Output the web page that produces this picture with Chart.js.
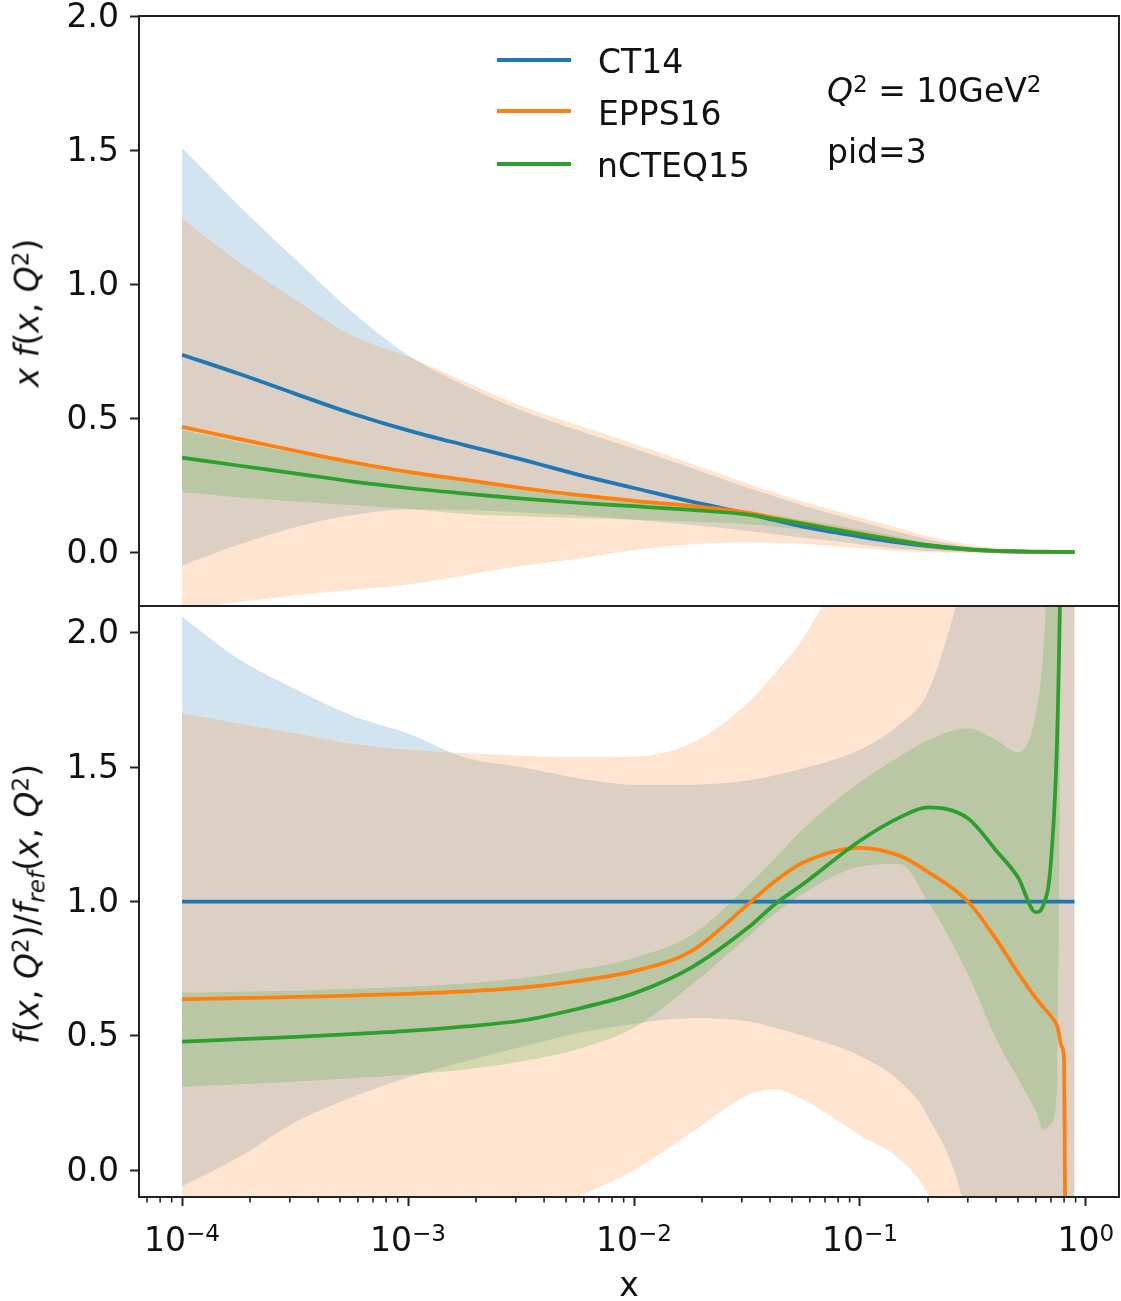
<!DOCTYPE html>
<html>
<head>
<meta charset="utf-8">
<script src="https://cdn.jsdelivr.net/npm/chart.js@4.4.1/dist/chart.umd.min.js"></script>
<style>
  html, body { margin: 0; padding: 0; background: #fff; }
  #wrap { position: relative; width: 1121px; height: 1301px; overflow: hidden;
          font-family: "DejaVu Sans", "Noto Sans", sans-serif; color: #111; }
  canvas { position: absolute; left: 0; }
  #topPanel { top: 0; width: 1121px; height: 640px; }
  #ratioPanel { top: 590px; width: 1121px; height: 711px; }
  .t { position: absolute; white-space: nowrap; font-size: 33px; line-height: 1; }
  .sup { position: relative; top: -0.45em; font-size: 0.7em; }
  .sub { position: relative; top: 0.28em; font-size: 0.7em; }
  .ylab { transform: translate(-50%, -50%) rotate(-90deg); }
  .sw { position: absolute; left: 497px; width: 74px; height: 4px; }
  .xt { transform: translateX(-50%); }
</style>
</head>
<body>
<div id="wrap">
  <canvas id="topPanel" width="1121" height="640"></canvas>
  <canvas id="ratioPanel" width="1121" height="711"></canvas>

  <div class="sw" style="top:58px;background:#1f77b4"></div>
  <div class="sw" style="top:109px;background:#ff7f0e"></div>
  <div class="sw" style="top:162px;background:#2ca02c"></div>
  <div class="t" style="left:598px;top:45px">CT14</div>
  <div class="t" style="left:598px;top:97px">EPPS16</div>
  <div class="t" style="left:597px;top:149px">nCTEQ15</div>

  <div class="t" style="left:827px;top:74px"><i>Q</i><span class="sup">2</span> = 10GeV<span class="sup">2</span></div>
  <div class="t" style="left:827px;top:135px">pid=3</div>

  <div class="t ylab" style="left:27px;top:313px"><i>x</i> <i>f</i>(<i>x</i>, <i>Q</i><span class="sup">2</span>)</div>
  <div class="t ylab" style="left:27px;top:904px"><i>f</i>(<i>x</i>, <i>Q</i><span class="sup">2</span>)/<i>f</i><span class="sub"><i>ref</i></span>(<i>x</i>, <i>Q</i><span class="sup">2</span>)</div>

  <div class="t xt" style="left:629px;top:1268px">x</div>
</div>

<script>
// Momentum fractions shared by every curve
const xs = [1e-4, 1.8e-4, 3.2e-4, 5.6e-4, 1e-3, 1.8e-3, 3.2e-3, 5.6e-3, 1e-2, 1.8e-2,
            3.2e-2, 4.2e-2, 5.6e-2, 0.1, 0.15, 0.2, 0.3, 0.4, 0.5, 0.6,
            0.65, 0.7, 0.75, 0.78, 0.8, 0.82, 0.85, 0.89];

// Upper panel: x f(x, Q^2) central values and uncertainty envelopes
const ct14 = [0.737, 0.665, 0.590, 0.519, 0.455, 0.399, 0.346, 0.291, 0.240, 0.189,
              0.144, 0.120, 0.096, 0.059, 0.036, 0.023, 0.010, 0.005, 0.003, 0.002,
              0.002, 0.001, 0.001, 0.001, 0.001, 0.001, 0.001, 0.001];
const ct14Lo = [-0.049, 0.030, 0.095, 0.138, 0.160, 0.158, 0.150, 0.138, 0.122, 0.102,
                0.080, 0.068, 0.055, 0.030, 0.013, 0.006, 0.002, 0.001, 0.000, 0.000,
                0.000, 0.000, 0.000, 0.000, 0.000, 0.000, 0.000, 0.000];
const ct14Hi = [1.509, 1.290, 1.090, 0.900, 0.735, 0.620, 0.528, 0.456, 0.386, 0.315,
                0.240, 0.208, 0.175, 0.115, 0.075, 0.048, 0.022, 0.011, 0.006, 0.004,
                0.003, 0.003, 0.002, 0.002, 0.002, 0.002, 0.002, 0.002];

const epps16 = [0.468, 0.422, 0.378, 0.337, 0.300, 0.270, 0.240, 0.214, 0.192, 0.173,
                0.147, 0.128, 0.108, 0.070, 0.044, 0.027, 0.011, 0.005, 0.003, 0.002,
                0.002, 0.002, 0.001, 0.001, 0.001, 0.001, 0.001, 0.001];
const epps16Lo = [-0.210, -0.185, -0.160, -0.140, -0.120, -0.085, -0.050, -0.025, 0.008, 0.030,
                  0.038, 0.036, 0.032, 0.015, 0.005, 0.000, -0.002, -0.002, -0.002, -0.002,
                  -0.002, -0.002, -0.002, -0.002, -0.002, -0.002, -0.002, -0.002];
const epps16Hi = [1.245, 1.080, 0.940, 0.810, 0.730, 0.635, 0.545, 0.475, 0.405, 0.330,
                  0.255, 0.222, 0.190, 0.130, 0.090, 0.060, 0.030, 0.015, 0.008, 0.005,
                  0.004, 0.004, 0.003, 0.003, 0.003, 0.003, 0.003, 0.003];

const ncteq15 = [0.353, 0.323, 0.294, 0.265, 0.240, 0.219, 0.200, 0.185, 0.172, 0.158,
                 0.141, 0.124, 0.106, 0.068, 0.043, 0.027, 0.012, 0.006, 0.004, 0.003,
                 0.003, 0.002, 0.002, 0.002, 0.002, 0.002, 0.001, 0.001];
const ncteq15Lo = [0.225, 0.205, 0.190, 0.177, 0.163, 0.143, 0.135, 0.128, 0.122, 0.115,
                   0.105, 0.096, 0.085, 0.060, 0.038, 0.022, 0.009, 0.004, 0.002, 0.001,
                   0.001, 0.001, 0.001, 0.001, 0.001, 0.001, 0.001, 0.001];
const ncteq15Hi = [0.455, 0.410, 0.370, 0.332, 0.297, 0.268, 0.240, 0.215, 0.195, 0.178,
                   0.153, 0.137, 0.120, 0.085, 0.056, 0.034, 0.015, 0.008, 0.005, 0.004,
                   0.003, 0.003, 0.003, 0.003, 0.003, 0.003, 0.003, 0.003];

// Lower panel: ratio to the CT14 reference
const ct14R = [1, 1, 1, 1, 1, 1, 1, 1, 1, 1, 1, 1, 1, 1,
               1, 1, 1, 1, 1, 1, 1, 1, 1, 1, 1, 1, 1, 1];
const ct14RLo = [-0.06, 0.05, 0.18, 0.27, 0.345, 0.405, 0.46, 0.51, 0.545, 0.565,
                 0.553, 0.53, 0.50, 0.425, 0.33, 0.20, -0.2, -1.0, -2.0, -2.0,
                 -2.0, -2.0, -2.0, -2.0, -2.0, -2.0, -2.0, -2.0];
const ct14RHi = [2.06, 1.90, 1.79, 1.693, 1.625, 1.535, 1.50, 1.46, 1.435, 1.435,
                 1.45, 1.47, 1.495, 1.565, 1.66, 1.78, 2.25, 2.6, 3.0, 3.4,
                 3.6, 4.0, 4.0, 4.0, 4.0, 4.0, 4.0, 4.0];

const epps16R = [0.636, 0.640, 0.645, 0.650, 0.656, 0.665, 0.679, 0.704, 0.741, 0.816,
                 0.99, 1.075, 1.145, 1.20, 1.17, 1.11, 1.00, 0.86, 0.735, 0.64,
                 0.605, 0.573, 0.53, 0.46, 0.41, -1.0, -3.0, -4.0];
const epps16RLo = [-0.5, -0.45, -0.4, -0.35, -0.3, -0.25, -0.2, -0.1, 0.0, 0.14,
                   0.28, 0.30, 0.262, 0.13, 0.04, -0.09, -0.5, -1.0, -2.0, -2.0,
                   -2.0, -2.0, -2.0, -2.0, -2.0, -2.0, -4.0, -5.0];
const epps16RHi = [1.70, 1.662, 1.625, 1.587, 1.565, 1.552, 1.543, 1.538, 1.54, 1.59,
                   1.74, 1.85, 1.98, 2.4, 2.9, 3.4, 4.0, 5.0, 5.0, 5.0,
                   5.0, 5.0, 5.0, 5.0, 5.0, 5.0, 5.0, 5.0];

const ncteq15R = [0.478, 0.488, 0.496, 0.506, 0.518, 0.535, 0.557, 0.60, 0.658, 0.755,
                  0.903, 0.99, 1.065, 1.226, 1.313, 1.35, 1.31, 1.19, 1.09, 0.96,
                  0.99, 1.15, 1.70, 2.60, 4.0, 5.0, 6.0, 7.0];
const ncteq15RLo = [0.31, 0.32, 0.33, 0.342, 0.356, 0.375, 0.405, 0.45, 0.53, 0.69,
                    0.87, 0.955, 1.03, 1.13, 1.14, 1.00, 0.73, 0.49, 0.34, 0.22,
                    0.15, 0.17, 0.35, 2.5, 3.5, 4.5, 5.5, 6.5];
const ncteq15RHi = [0.66, 0.664, 0.668, 0.675, 0.683, 0.695, 0.715, 0.745, 0.79, 0.875,
                    1.06, 1.16, 1.27, 1.445, 1.54, 1.60, 1.645, 1.60, 1.556, 1.70,
                    1.95, 2.6, 3.5, 4.5, 6.0, 7.0, 8.0, 9.0];

// Axis ticks
const xTickVals = [1e-4, 1e-3, 1e-2, 1e-1, 1];
const xTickExp = ['\u22124', '\u22123', '\u22122', '\u22121', '0'];
const xMin = 6.45e-5, xMax = 1.40;

const names = ['CT14', 'EPPS16', 'nCTEQ15'];
const lineColors = ['#1f77b4', '#ff7f0e', '#2ca02c'];
const bandColors = ['rgba(31,119,180,0.2)', 'rgba(255,127,14,0.2)', 'rgba(44,160,44,0.2)'];
const FONT = 33;

const pts = arr => xs.map((x, i) => ({ x: x, y: arr[i] }));

function buildDatasets(mids, los, his) {
  const ds = [];
  const common = { pointRadius: 0, pointHoverRadius: 0, cubicInterpolationMode: 'monotone', clip: 0 };
  // lower envelopes (invisible, fill targets)
  los.forEach((lo, k) => ds.push(Object.assign({ label: names[k] + ' min', data: pts(lo),
    borderWidth: 0, borderColor: 'rgba(0,0,0,0)', fill: false, order: 10 }, common)));
  // upper envelopes, shaded down to the matching lower envelope
  his.forEach((hi, k) => ds.push(Object.assign({ label: names[k] + ' max', data: pts(hi),
    borderWidth: 0, borderColor: 'rgba(0,0,0,0)', backgroundColor: bandColors[k],
    fill: { target: k }, order: 5 - k }, common)));
  // central curves
  mids.forEach((m, k) => ds.push(Object.assign({ label: names[k], data: pts(m),
    borderWidth: 3.75, borderColor: lineColors[k], fill: false, order: 2 - k }, common)));
  return ds;
}

// Box around the plotting area plus minor log ticks on the x axis
const framePlugin = {
  id: 'frame',
  afterDraw(chart, args, opts) {
    const { ctx, chartArea: a } = chart;
    ctx.save();
    ctx.strokeStyle = '#222';
    ctx.lineWidth = 2;
    ctx.strokeRect(a.left, a.top, a.right - a.left, a.bottom - a.top);
    if (opts.minor) {
      const sx = chart.scales.x;
      ctx.lineWidth = 1.6;
      for (let e = -5; e <= 0; e++) {
        for (let m = 2; m <= 9; m++) {
          const v = m * Math.pow(10, e);
          if (v < xMin || v > xMax) continue;
          const px = sx.getPixelForValue(v);
          ctx.beginPath();
          ctx.moveTo(px, a.bottom);
          ctx.lineTo(px, a.bottom + 5.5);
          ctx.stroke();
        }
      }
    }
    ctx.restore();
  }
};

function yAxis(min, max) {
  return {
    type: 'linear', min: min, max: max,
    grid: { drawOnChartArea: false, drawTicks: true, tickLength: 9, tickWidth: 2, tickColor: '#222' },
    border: { display: false },
    ticks: { stepSize: 0.5, includeBounds: false, padding: 11, labelOffset: 2, color: '#111',
             font: { family: '"DejaVu Sans"', size: FONT },
             callback: v => v.toFixed(1) },
    afterFit(s) { s.width = 139; s.paddingTop = 0; s.paddingBottom = 0; }
  };
}

function xAxis(show) {
  return {
    type: 'logarithmic', min: xMin, max: xMax, display: show,
    grid: { drawOnChartArea: false, drawTicks: true, tickLength: 9, tickWidth: 2, tickColor: '#222' },
    border: { display: false },
    ticks: { display: false, autoSkip: false, maxRotation: 0 },
    afterBuildTicks(s) { s.ticks = xTickVals.map(v => ({ value: v, major: true })); },
    afterFit(s) { if (show) { s.height = 104; } s.paddingLeft = 0; s.paddingRight = 0; }
  };
}

function baseOptions(padding, minor) {
  return {
    responsive: false, animation: false, devicePixelRatio: 1,
    layout: { padding: padding },
    plugins: { legend: { display: false }, tooltip: { enabled: false }, frame: { minor: minor } },
    scales: {}
  };
}

// Upper panel
const topOpts = baseOptions({ left: 0, right: 2, top: 16, bottom: 34 }, false);
topOpts.scales.x = xAxis(false);
topOpts.scales.y = yAxis(-0.2, 2.0);
new Chart(document.getElementById('topPanel'), {
  type: 'line',
  data: { datasets: buildDatasets([ct14, epps16, ncteq15], [ct14Lo, epps16Lo, ncteq15Lo], [ct14Hi, epps16Hi, ncteq15Hi]) },
  options: topOpts,
  plugins: [framePlugin]
});

// Lower panel
const botOpts = baseOptions({ left: 0, right: 2, top: 16, bottom: 0 }, true);
botOpts.scales.x = xAxis(true);
botOpts.scales.y = yAxis(-0.1, 2.1);
const ratioChart = new Chart(document.getElementById('ratioPanel'), {
  type: 'line',
  data: { datasets: buildDatasets([ct14R, epps16R, ncteq15R], [ct14RLo, epps16RLo, ncteq15RLo], [ct14RHi, epps16RHi, ncteq15RHi]) },
  options: botOpts,
  plugins: [framePlugin]
});

// x tick labels with raised exponents, placed from the lower panel's x scale
const wrap = document.getElementById('wrap');
const canvasTop = 590;
xTickVals.forEach((v, i) => {
  const px = ratioChart.scales.x.getPixelForValue(v);
  const el = document.createElement('div');
  el.className = 't xt';
  el.style.left = px + 'px';
  el.style.top = (canvasTop + ratioChart.chartArea.bottom + 26) + 'px';
  el.innerHTML = '10<span class="sup">' + xTickExp[i] + '</span>';
  wrap.appendChild(el);
});
</script>
</body>
</html>
